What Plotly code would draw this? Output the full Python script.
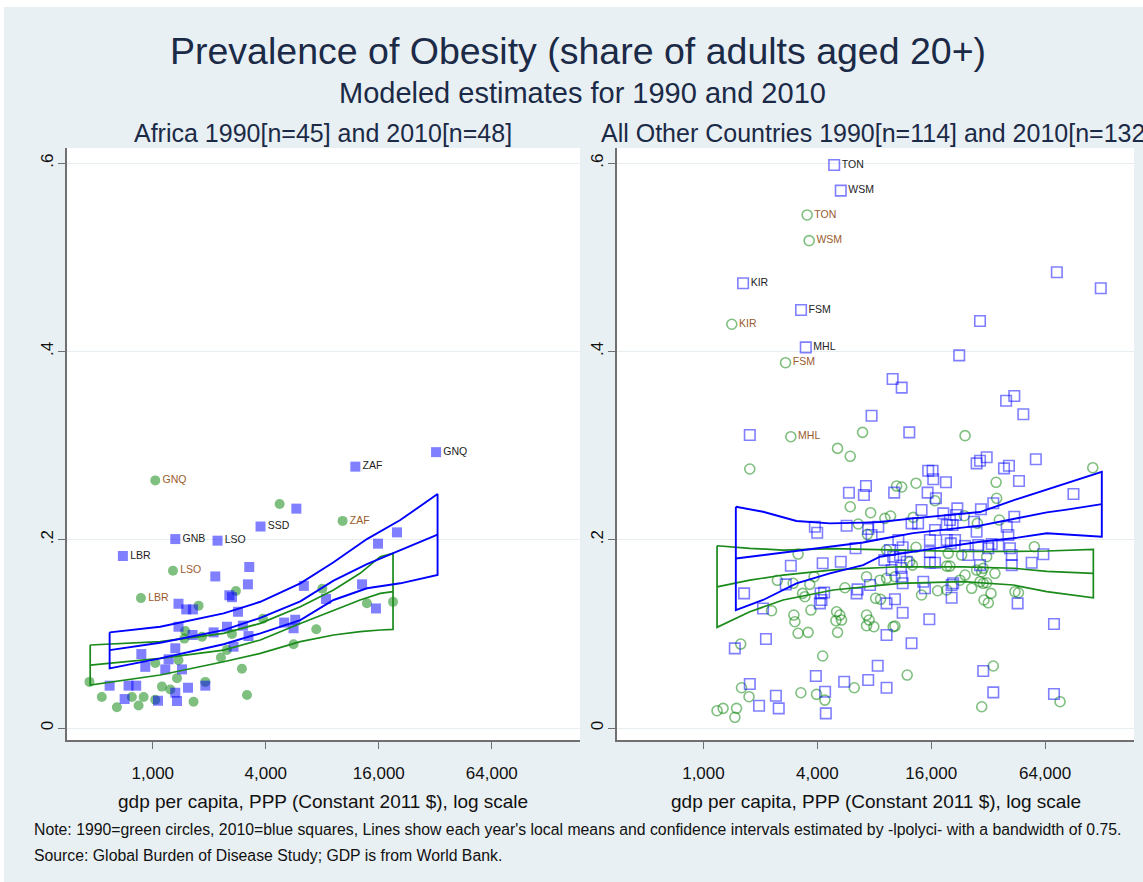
import plotly.graph_objects as go

# ---------------- Africa, 1990 (green filled circles) ----------------
afr90_gdp = [1031, 4740, 1281, 865, 1754, 2772, 3864, 1489, 1472, 2306, 2985, 5623,
             460, 535, 644, 840, 1119, 1031, 1346, 1649, 1905, 3176, 1031, 1371,
             894, 2484, 2640, 10260, 8000, 7430, 13830, 19050, 774, 1240, 1829]
afr90_ob = [0.263, 0.238, 0.167, 0.138, 0.130, 0.1455, 0.116, 0.103, 0.095, 0.075, 0.063, 0.089,
            0.049, 0.033, 0.022, 0.024, 0.044, 0.030, 0.053, 0.028, 0.049, 0.035, 0.069, 0.072,
            0.033, 0.083, 0.100, 0.220, 0.148, 0.105, 0.1325, 0.134, 0.033, 0.041, 0.097]
afr90_lab = ["GNQ", "", "LSO", "LBR", "", "", "", "", "", "", "", "",
             "", "", "", "", "", "", "", "", "", "", "", "",
             "", "", "", "ZAF", "", "", "", "", "", "", ""]

# ---------------- Africa, 2010 (blue filled squares) ----------------
afr10_gdp = [693, 1318, 2213, 3750, 5820, 3266, 2153, 3213, 2558, 2642, 6380, 1371,
             1507, 1636, 2844, 1371, 2109, 2484, 3020, 3236, 2692, 1629, 5010, 5740,
             5623, 1318, 869, 1214, 912, 1166, 1431, 589, 743, 816, 1541, 1905,
             708, 1066, 1318, 1346, 32300, 12000, 20000, 15850, 13030, 15450, 8380]
afr10_ob = [0.1827, 0.2007, 0.199, 0.214, 0.233, 0.171, 0.161, 0.1526, 0.141, 0.139, 0.151, 0.132,
            0.126, 0.126, 0.1235, 0.1076, 0.1016, 0.1076, 0.1087, 0.0977, 0.0864, 0.0988, 0.112, 0.115,
            0.106, 0.0847, 0.0786, 0.073, 0.065, 0.0623, 0.0623, 0.045, 0.045, 0.045, 0.0428, 0.045,
            0.0308, 0.029, 0.0375, 0.0287, 0.293, 0.2776, 0.2078, 0.1958, 0.1526, 0.127, 0.137]
afr10_lab = ["LBR", "GNB", "LSO", "SSD", "", "", "", "", "", "", "", "",
             "", "", "", "", "", "", "", "", "", "", "", "",
             "", "", "", "", "", "", "", "", "", "", "", "",
             "", "", "", "", "GNQ", "ZAF", "", "", "", "", ""]

# ---------------- Other countries, 1990 (green hollow circles) ----------------
oth90_gdp = [3532, 3620, 1412, 2716, 2897,
             1758, 6935, 5117, 5970, 5970, 7650, 9100, 9750, 10500, 11170, 13300, 6580,
             7350, 3165, 2460, 2978, 3648, 3846, 5595, 7280, 8130, 8630, 2290, 3342,
             3700, 5058, 5260, 3006, 7280, 3436, 3043, 3165, 3575, 5015, 5370, 5117,
             7510, 7280, 7960, 10070, 8570, 9290, 1574, 4268, 1589, 1742, 3274, 3962,
             4385, 6270, 1180, 1270, 1496, 1466, 24150, 114300, 35240, 16750, 35480, 23930,
             36640, 28050, 56110, 12850, 9290, 13300, 19680, 23170, 12300, 12730, 19320, 20090,
             27800, 30130, 29580, 34750, 31420, 24150, 14220, 44360, 46240, 31420, 28970, 30130,
             22700, 26170, 30410, 32060, 33110, 17300, 10290, 11940, 34050, 29580, 76750, 10290,
             19320]
oth90_ob = [0.5449, 0.5176, 0.4288, 0.388, 0.3094,
            0.2751, 0.314, 0.297, 0.2886, 0.235, 0.2287, 0.2227, 0.2252, 0.257, 0.256, 0.260, 0.2167,
            0.2057, 0.1848, 0.1569, 0.1537, 0.1526, 0.1607, 0.149, 0.1607, 0.1378, 0.1367, 0.1246, 0.143,
            0.1253, 0.1235, 0.120, 0.120, 0.120, 0.1395, 0.1129, 0.1006, 0.1016, 0.114, 0.1147, 0.1016,
            0.1147, 0.1087, 0.1076, 0.1076, 0.157, 0.159, 0.0892, 0.0765, 0.0428, 0.0333, 0.0375, 0.0358,
            0.0297, 0.0428, 0.0184, 0.0209, 0.0209, 0.0114, 0.3105, 0.2765, 0.261, 0.2414, 0.244, 0.2255,
            0.2209, 0.2174, 0.1926, 0.2237, 0.189, 0.192, 0.1855, 0.1837, 0.1766, 0.173, 0.172, 0.172,
            0.1678, 0.1696, 0.166, 0.1643, 0.1543, 0.1625, 0.1413, 0.1448, 0.1437, 0.182, 0.1554, 0.1537,
            0.157, 0.1484, 0.136, 0.133, 0.143, 0.1458, 0.1083, 0.0563, 0.0659, 0.0226, 0.028, 0.1607,
            0.1466]
oth90_lab = ["TON", "WSM", "KIR", "FSM", "MHL"] + [""] * (len(oth90_gdp) - 5)

# ---------------- Other countries, 2010 (blue hollow squares) ----------------
oth10_gdp = [4910, 5320, 1620, 3281, 3475,
             1758, 7740, 10000, 11170, 5875, 7230, 7050, 10190, 3882, 3994, 5715, 7430,
             7740, 8400, 9680, 11300, 10070, 10940, 9040, 6370, 2897, 4268, 5320, 2723,
             6530, 6450, 7600, 9290, 10290, 11170, 11300, 11070, 11860, 1640, 2065, 4160,
             4345, 4125, 4207, 11300, 9290, 2140, 1465, 8340, 3928, 5546, 7430, 9290,
             1758, 2415, 4395, 1968, 2500, 4435, 73800, 126000, 28970, 22490, 39810, 43970,
             49090, 12250, 27800, 28970, 31420, 38800, 41200, 57150, 15420, 16260, 16400, 19140,
             46560, 15310, 90360, 16940, 34050, 14220, 21980, 21620, 29300, 43970, 18530, 12590,
             13640, 20090, 19320, 20760, 26920, 27800, 40090, 40920, 16750, 33420, 10720, 15740,
             19320, 20300, 21380, 24150, 28380, 32060, 36200, 41690, 42640, 15740, 16750, 25120,
             28970, 42640, 9890, 14520, 14820, 20510, 62660, 54330, 20890, 20510, 45800, 71300,
             15630, 12590, 30130, 34050, 71300, 15740]
oth10_ob = [0.598, 0.5707, 0.4723, 0.444, 0.4043,
            0.3112, 0.3317, 0.3707, 0.3615, 0.2499, 0.257, 0.2475, 0.25, 0.2138, 0.2074, 0.2149, 0.2114,
            0.205, 0.2138, 0.189, 0.192, 0.182, 0.1837, 0.1784, 0.1909, 0.1724, 0.175, 0.1766, 0.1526,
            0.1473, 0.143, 0.1519, 0.1324, 0.1367, 0.1607, 0.1537, 0.170, 0.1766, 0.143, 0.127, 0.143,
            0.144, 0.1324, 0.136, 0.1225, 0.0988, 0.0945, 0.0846, 0.0662, 0.0552, 0.0492, 0.051, 0.0428,
            0.0467, 0.0343, 0.0386, 0.0237, 0.0209, 0.0156, 0.484, 0.467, 0.4323, 0.3958, 0.3476, 0.3526,
            0.3332, 0.314, 0.2811, 0.2839, 0.2875, 0.2758, 0.2786, 0.2854, 0.2733, 0.2733, 0.2642, 0.261,
            0.2623, 0.25, 0.2485, 0.244, 0.2387, 0.2315, 0.2333, 0.2262, 0.2323, 0.2244, 0.228, 0.2174,
            0.2174, 0.2209, 0.2156, 0.2156, 0.2191, 0.2085, 0.2138, 0.205, 0.2103, 0.1954, 0.1997, 0.1997,
            0.1997, 0.1961, 0.1997, 0.1933, 0.1944, 0.1909, 0.1933, 0.1909, 0.1838, 0.1756, 0.1756, 0.1837,
            0.173, 0.173, 0.1678, 0.1554, 0.1484, 0.1519, 0.1845, 0.1756, 0.1537, 0.1384, 0.1324, 0.1105,
            0.1155, 0.090, 0.0605, 0.0379, 0.0361, 0.187]
oth10_lab = ["TON", "WSM", "KIR", "FSM", "MHL"] + [""] * (len(oth10_gdp) - 5)

# ---------------- local polynomial means and confidence bands ----------------
afr90_fit_gdp = [464, 1096, 2383, 3741, 6109, 9185, 12720, 16290, 19050]
afr90_fit_hi = [0.0882, 0.0917, 0.1006, 0.1112, 0.1288, 0.1466, 0.1643, 0.182, 0.1856]
afr90_fit_mid = [0.0669, 0.074, 0.0828, 0.0935, 0.1110, 0.1245, 0.136, 0.143, 0.1448]
afr90_fit_lo = [0.0457, 0.0563, 0.0704, 0.0793, 0.0917, 0.0988, 0.1023, 0.1041, 0.1048]

afr10_fit_gdp = [589, 1096, 2383, 3741, 6109, 9185, 13830, 20830, 32900]
afr10_fit_hi = [0.1016, 0.1076, 0.1218, 0.1341, 0.1537, 0.176, 0.2007, 0.2209, 0.2485]
afr10_fit_mid = [0.0828, 0.0906, 0.1040, 0.117, 0.1345, 0.1565, 0.1740, 0.1890, 0.2055]
afr10_fit_lo = [0.0634, 0.074, 0.089, 0.1006, 0.1147, 0.136, 0.1484, 0.1537, 0.1625]

oth90_fit_gdp = [1180, 1758, 2636, 4852, 10940, 23660, 43450, 65310, 115100]
oth90_fit_hi = [0.1936, 0.1909, 0.189, 0.1905, 0.189, 0.1875, 0.1875, 0.188, 0.1898]
oth90_fit_mid = [0.150, 0.157, 0.1625, 0.168, 0.1713, 0.1712, 0.1697, 0.1664, 0.1643]
oth90_fit_lo = [0.107, 0.1235, 0.136, 0.1466, 0.1537, 0.1554, 0.1519, 0.1448, 0.1384]

oth10_fit_gdp = [1483, 2066, 3104, 4656, 6981, 8570, 12860, 19320, 28970, 43450, 65310, 83330, 127600]
oth10_fit_hi = [0.235, 0.2297, 0.2199, 0.2174, 0.2181, 0.2188, 0.2227, 0.2262, 0.2294, 0.2418, 0.253, 0.2599, 0.2722]
oth10_fit_mid = [0.180, 0.1835, 0.188, 0.1925, 0.1970, 0.2005, 0.2070, 0.2110, 0.2150, 0.2220, 0.229, 0.232, 0.2378]
oth10_fit_lo = [0.1253, 0.136, 0.1537, 0.1643, 0.1731, 0.1819, 0.1873, 0.1926, 0.1979, 0.2015, 0.2068, 0.2055, 0.2032]

x_tick_vals = [1000, 4000, 16000, 64000]
x_tick_text = ["1,000", "4,000", "16,000", "64,000"]
y_tick_vals = [0, 0.2, 0.4, 0.6]
y_tick_text = ["0", ".2", ".4", ".6"]

# ---------------- styling ----------------
W, H = 1143, 882
FONT = "Liberation Sans, Arial, Helvetica, sans-serif"
BG = "#e9f0f3"
GRID = "#e6eef1"
AXIS = "#707070"
TITLE_C = "#1b2a47"
GREEN_MK = "rgba(0,128,0,0.5)"
BLUE_MK = "rgba(0,0,255,0.5)"
GREEN_LN = "#1a8a1a"
BLUE_LN = "#0000ff"
LAB90_C = "#9a5b2d"
LAB10_C = "#222222"


def px_x(p):
    return p / W


def px_y(p):
    return 1 - p / H


fig = go.Figure()


def scatter(gdp, ob, lab, xa, ya, symbol, color, lab_color, filled):
    marker = dict(symbol=symbol, size=10, color=color, line=dict(width=0))
    if not filled:
        marker = dict(symbol=symbol + "-open", size=10 if symbol == "circle" else 10.5,
                      color=color, line=dict(width=1.6, color=color))
    fig.add_trace(go.Scatter(
        x=gdp, y=ob, text=lab, mode="markers+text", textposition="middle right",
        textfont=dict(family=FONT, size=10.5, color=lab_color),
        marker=marker, xaxis=xa, yaxis=ya, hoverinfo="skip", cliponaxis=False))


def band(gdp, lo, mid, hi, xa, ya, color, width):
    # closed outline of the confidence band plus the local mean
    xs = list(gdp) + list(gdp[::-1]) + [gdp[0]]
    ys = list(hi) + list(lo[::-1]) + [hi[0]]
    fig.add_trace(go.Scatter(x=xs, y=ys, mode="lines", line=dict(color=color, width=width),
                             xaxis=xa, yaxis=ya, hoverinfo="skip"))
    fig.add_trace(go.Scatter(x=gdp, y=mid, mode="lines", line=dict(color=color, width=width),
                             xaxis=xa, yaxis=ya, hoverinfo="skip"))


# left panel: Africa
scatter(afr90_gdp, afr90_ob, afr90_lab, "x", "y", "circle", GREEN_MK, LAB90_C, True)
scatter(afr10_gdp, afr10_ob, afr10_lab, "x", "y", "square", BLUE_MK, LAB10_C, True)
band(afr90_fit_gdp, afr90_fit_lo, afr90_fit_mid, afr90_fit_hi, "x", "y", GREEN_LN, 1.7)
band(afr10_fit_gdp, afr10_fit_lo, afr10_fit_mid, afr10_fit_hi, "x", "y", BLUE_LN, 1.9)

# right panel: all other countries
scatter(oth90_gdp, oth90_ob, oth90_lab, "x2", "y2", "circle", GREEN_MK, LAB90_C, False)
scatter(oth10_gdp, oth10_ob, oth10_lab, "x2", "y2", "square", BLUE_MK, LAB10_C, False)
band(oth90_fit_gdp, oth90_fit_lo, oth90_fit_mid, oth90_fit_hi, "x2", "y2", GREEN_LN, 1.7)
band(oth10_fit_gdp, oth10_fit_lo, oth10_fit_mid, oth10_fit_hi, "x2", "y2", BLUE_LN, 1.9)

x_range = [2.543, 5.276]
y_range = [-0.0127, 0.616]

xaxis_common = dict(type="log", range=x_range, tickvals=x_tick_vals, ticktext=x_tick_text,
                    showgrid=False, zeroline=False, showline=True, linecolor=AXIS, linewidth=1.5,
                    ticks="outside", ticklen=7, tickwidth=1.3, tickcolor=AXIS,
                    ticklabelstandoff=10,
                    tickfont=dict(family=FONT, size=17, color="#111111"))
yaxis_common = dict(range=y_range, tickvals=y_tick_vals, ticktext=y_tick_text,
                    showgrid=True, gridcolor=GRID, gridwidth=1, zeroline=False,
                    showline=True, linecolor=AXIS, linewidth=1.5,
                    ticks="outside", ticklen=7, tickwidth=1.3, tickcolor=AXIS,
                    tickangle=-90, ticklabelstandoff=-2,
                    tickfont=dict(family=FONT, size=17, color="#111111"))

y_dom = [px_y(740), px_y(148)]
fig.update_layout(
    width=W, height=H, margin=dict(l=0, r=0, t=0, b=0),
    paper_bgcolor=BG, plot_bgcolor="white", showlegend=False,
    font=dict(family=FONT),
    xaxis=dict(domain=[px_x(67), px_x(580)], anchor="y", **xaxis_common),
    yaxis=dict(domain=y_dom, anchor="x", **yaxis_common),
    xaxis2=dict(domain=[px_x(617), px_x(1134)], anchor="y2", **xaxis_common),
    yaxis2=dict(domain=y_dom, anchor="x2", **yaxis_common),
)

ann = []


def text(s, x, y, size, color=TITLE_C, anchor="center"):
    ann.append(dict(text=s, x=px_x(x), y=px_y(y), xref="paper", yref="paper",
                    xanchor=anchor, yanchor="middle", showarrow=False,
                    font=dict(family=FONT, size=size, color=color)))


text("Prevalence of Obesity (share of adults aged 20+)", 578, 51, 37.5)
text("Modeled estimates for 1990 and 2010", 582, 93, 29)
text("Africa 1990[n=45] and 2010[n=48]", 323, 133, 25)
text("All Other Countries 1990[n=114] and 2010[n=132]", 876, 133, 25)
text("gdp per capita, PPP (Constant 2011 $), log scale", 323, 801, 19, "#111111")
text("gdp per capita, PPP (Constant 2011 $), log scale", 876, 801, 19, "#111111")
text("Note: 1990=green circles, 2010=blue squares, Lines show each year's local means and "
     "confidence intervals estimated by -lpolyci- with a bandwidth of 0.75.",
     32, 829, 15.8, "#111111", "left")
text("Source: Global Burden of Disease Study; GDP is from World Bank.",
     32, 855, 15.8, "#111111", "left")
fig.update_layout(annotations=ann)

# thin white frame strips along the top and left edges
fig.add_shape(type="rect", xref="paper", yref="paper", x0=0, x1=1, y0=px_y(7), y1=1,
              fillcolor="white", line=dict(width=0), layer="above")
fig.add_shape(type="rect", xref="paper", yref="paper", x0=0, x1=px_x(4), y0=0, y1=1,
              fillcolor="white", line=dict(width=0), layer="above")

fig.write_html("out.html")
